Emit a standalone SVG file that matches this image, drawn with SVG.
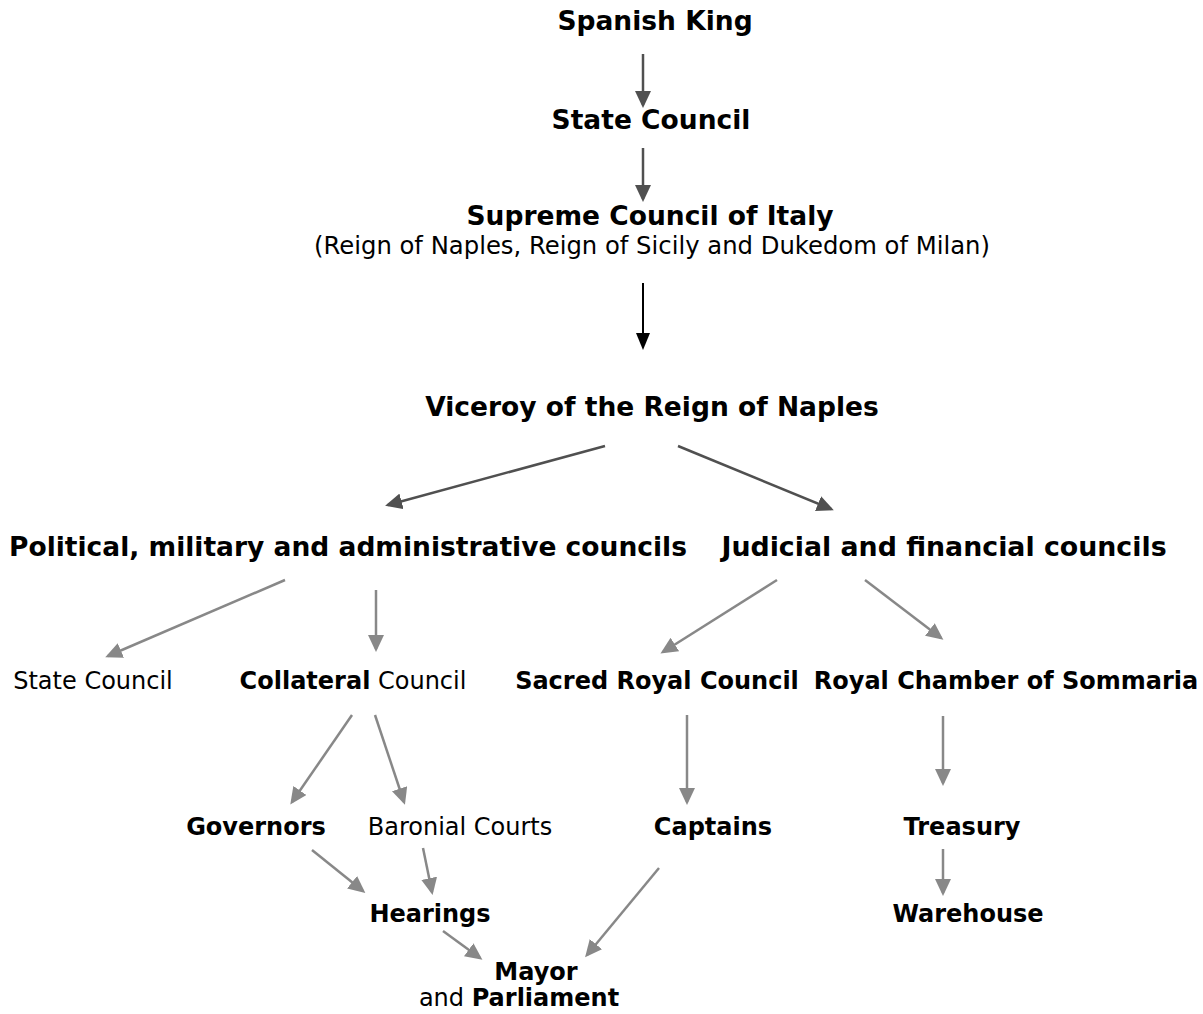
<svg xmlns="http://www.w3.org/2000/svg" width="1203" height="1014" viewBox="0 0 1203 1014">
<defs>
<style>
text{font-family:"DejaVu Sans","Verdana",sans-serif;font-size:24px;fill:#000;text-anchor:middle}
.b{font-weight:bold}
.r{font-weight:normal}
.h{font-size:26.5px;font-weight:bold}
.dk{stroke:#505050;stroke-width:2.5;fill:none}
.bk{stroke:#000;stroke-width:2;fill:none}
.lt{stroke:#888;stroke-width:2.5;fill:none}
</style>
<marker id="mdk" markerUnits="userSpaceOnUse" markerWidth="18" markerHeight="16" refX="14" refY="8" orient="auto"><path d="M0,0 L17,8 L0,16 z" fill="#505050"/></marker>
<marker id="mbk" markerUnits="userSpaceOnUse" markerWidth="18" markerHeight="16" refX="14" refY="7" orient="auto"><path d="M0,0 L17,7 L0,14 z" fill="#000"/></marker>
<marker id="mlt" markerUnits="userSpaceOnUse" markerWidth="18" markerHeight="16" refX="14" refY="8" orient="auto"><path d="M0,0 L17,8 L0,16 z" fill="#888"/></marker>
</defs>
<rect width="1203" height="1014" fill="#fff"/>
<g id="connectors">
<line class="dk" x1="643" y1="54" x2="643" y2="105" marker-end="url(#mdk)"/>
<line class="dk" x1="643" y1="148" x2="643" y2="199" marker-end="url(#mdk)"/>
<line class="bk" x1="643" y1="283" x2="643" y2="347" marker-end="url(#mbk)"/>
<line class="dk" x1="605" y1="446" x2="388" y2="505" marker-end="url(#mdk)"/>
<line class="dk" x1="678" y1="446" x2="831" y2="509" marker-end="url(#mdk)"/>
<line class="lt" x1="285" y1="580" x2="108" y2="656" marker-end="url(#mlt)"/>
<line class="lt" x1="376" y1="590" x2="376" y2="649" marker-end="url(#mlt)"/>
<line class="lt" x1="777" y1="580" x2="663" y2="652" marker-end="url(#mlt)"/>
<line class="lt" x1="865" y1="580" x2="941" y2="638" marker-end="url(#mlt)"/>
<line class="lt" x1="352" y1="715" x2="292" y2="802" marker-end="url(#mlt)"/>
<line class="lt" x1="375" y1="715" x2="404" y2="802" marker-end="url(#mlt)"/>
<line class="lt" x1="687" y1="715" x2="687" y2="802" marker-end="url(#mlt)"/>
<line class="lt" x1="943" y1="716" x2="943" y2="783" marker-end="url(#mlt)"/>
<line class="lt" x1="312" y1="850" x2="363" y2="891" marker-end="url(#mlt)"/>
<line class="lt" x1="423" y1="848" x2="432" y2="892" marker-end="url(#mlt)"/>
<line class="lt" x1="659" y1="868" x2="587" y2="955" marker-end="url(#mlt)"/>
<line class="lt" x1="443" y1="931" x2="480" y2="958" marker-end="url(#mlt)"/>
<line class="lt" x1="943" y1="849" x2="943" y2="893" marker-end="url(#mlt)"/>
</g>
<g id="spanish-king"><text class="h" x="655" y="30">Spanish King</text></g>
<g id="state-council-top"><text class="h" x="651" y="129">State Council</text></g>
<g id="supreme-council"><text class="h" x="650" y="225">Supreme Council of Italy</text><text class="r" x="652" y="254" style="font-size:24.3px">(Reign of Naples, Reign of Sicily and Dukedom of Milan)</text></g>
<g id="viceroy"><text class="h" x="652" y="416">Viceroy of the Reign of Naples</text></g>
<g id="political"><text class="h" x="348" y="556">Political, military and administrative councils</text></g>
<g id="judicial"><text class="h" x="944" y="556" style="font-size:26.8px">Judicial and financial councils</text></g>
<g id="state-council"><text class="r" x="93" y="689">State Council</text></g>
<g id="collateral"><text x="353" y="689"><tspan class="b">Collateral</tspan> Council</text></g>
<g id="sacred"><text class="b" x="657" y="689">Sacred Royal Council</text></g>
<g id="royal-chamber"><text class="b" x="1006" y="689">Royal Chamber of Sommaria</text></g>
<g id="governors"><text class="b" x="256" y="835">Governors</text></g>
<g id="baronial"><text class="r" x="460" y="835">Baronial Courts</text></g>
<g id="captains"><text class="b" x="713" y="835">Captains</text></g>
<g id="treasury"><text class="b" x="962" y="835">Treasury</text></g>
<g id="hearings"><text class="b" x="430" y="922">Hearings</text></g>
<g id="warehouse"><text class="b" x="968" y="922">Warehouse</text></g>
<g id="mayor"><text class="b" x="536" y="980">Mayor</text><text x="519" y="1006">and <tspan class="b">Parliament</tspan></text></g>
</svg>
